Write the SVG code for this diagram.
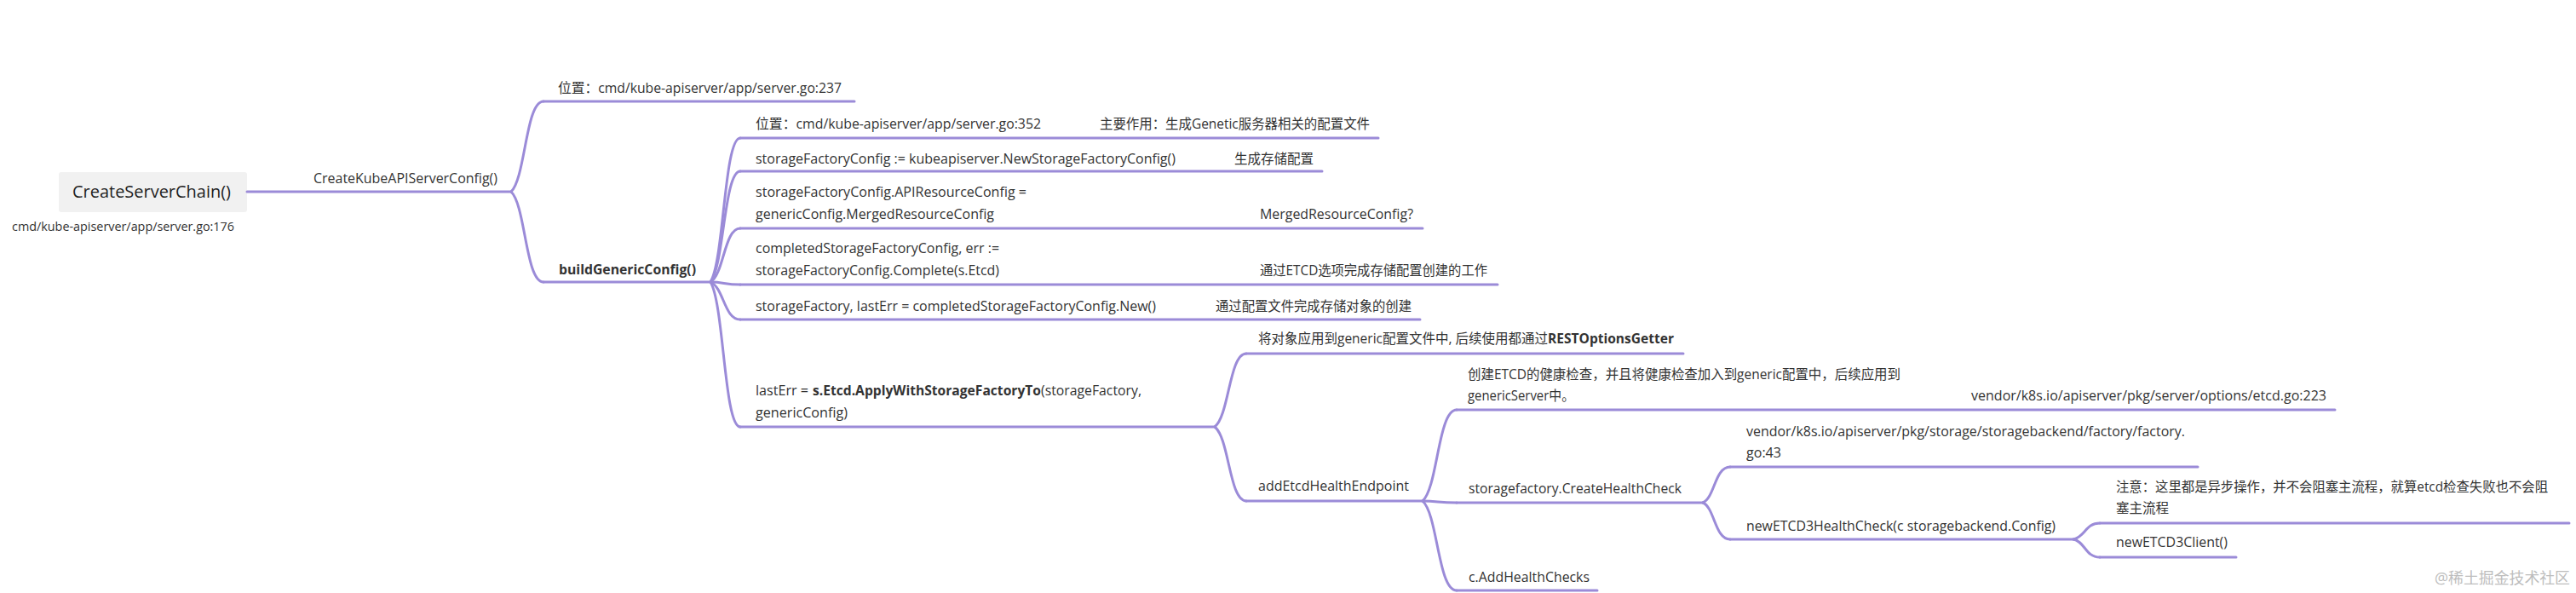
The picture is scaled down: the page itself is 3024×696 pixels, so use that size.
<svg xmlns="http://www.w3.org/2000/svg" width="3024" height="696" viewBox="0 0 3024 696">
<style>
text{font-family:"Open Sans","Noto Sans CJK SC",sans-serif;font-size:16px;fill:#333}
.b{font-weight:700}
.root{font-size:20px;fill:#1e1e1e}
.sm{font-size:15px}
.ul,.cn{fill:none;stroke:#9b8bd8;stroke-width:3;stroke-linecap:round}
.wm{font-size:18px;fill:#bdbdbd}
</style>
<rect width="3024" height="696" fill="#ffffff"/>
<g id="connectors">
<path class="cn" d="M600 225 C617 209 617 119 638 119"/>
<path class="cn" d="M600 225 C617 241 617 331 638 331"/>
<path class="cn" d="M834 331 C850 306 850 162 869 162"/>
<path class="cn" d="M834 331 C850 312 850 201 869 201"/>
<path class="cn" d="M834 331 C850 322 850 268 869 268"/>
<path class="cn" d="M834 331 C850 331 850 334 869 334"/>
<path class="cn" d="M834 331 C850 338 850 375 869 375"/>
<path class="cn" d="M834 331 C850 357 850 501 869 501"/>
<path class="cn" d="M1426 501 C1443 488 1443 415 1463 415"/>
<path class="cn" d="M1426 501 C1443 514 1443 588 1463 588"/>
<path class="cn" d="M1670 588 C1688 572 1688 481 1710 481"/>
<path class="cn" d="M1670 588 C1688 588 1688 590 1710 590"/>
<path class="cn" d="M1670 588 C1688 604 1688 693 1710 693"/>
<path class="cn" d="M1999 590 C2013 584 2013 548 2031 548"/>
<path class="cn" d="M1999 590 C2013 596 2013 633 2031 633"/>
<path class="cn" d="M2434 633 C2448 630 2448 614 2465 614"/>
<path class="cn" d="M2434 633 C2448 636 2448 654 2465 654"/>
</g>
<g id="n-root">
<rect x="69" y="202" width="221" height="47" rx="3" fill="#f1f1f1"/>
<text class="root" x="85" y="232" textLength="186" lengthAdjust="spacingAndGlyphs">CreateServerChain()</text>
<text class="sm" x="14" y="271" textLength="261" lengthAdjust="spacingAndGlyphs">cmd/kube-apiserver/app/server.go:176</text>
</g>
<g id="n-kube">
<line class="ul" x1="290" y1="225" x2="600" y2="225"/>
<text x="368" y="215" textLength="216" lengthAdjust="spacingAndGlyphs">CreateKubeAPIServerConfig()</text>
</g>
<g id="n-loc237">
<line class="ul" x1="638" y1="119" x2="1003" y2="119"/>
<text x="655" y="109" textLength="333" lengthAdjust="spacingAndGlyphs">位置：cmd/kube-apiserver/app/server.go:237</text>
</g>
<g id="n-build">
<line class="ul" x1="638" y1="331" x2="834" y2="331"/>
<text class="b" x="656" y="322" textLength="161" lengthAdjust="spacingAndGlyphs">buildGenericConfig()</text>
</g>
<g id="n-loc352">
<line class="ul" x1="869" y1="162" x2="1618" y2="162"/>
<text x="887" y="151" textLength="335" lengthAdjust="spacingAndGlyphs">位置：cmd/kube-apiserver/app/server.go:352</text>
<text x="1291" y="151" textLength="317" lengthAdjust="spacingAndGlyphs">主要作用：生成Genetic服务器相关的配置文件</text>
</g>
<g id="n-sfc">
<line class="ul" x1="869" y1="201" x2="1552" y2="201"/>
<text x="887" y="192" textLength="493" lengthAdjust="spacingAndGlyphs">storageFactoryConfig := kubeapiserver.NewStorageFactoryConfig()</text>
<text x="1449" y="192" textLength="93" lengthAdjust="spacingAndGlyphs">生成存储配置</text>
</g>
<g id="n-apires">
<line class="ul" x1="869" y1="268" x2="1670" y2="268"/>
<text x="887" y="231" textLength="318" lengthAdjust="spacingAndGlyphs">storageFactoryConfig.APIResourceConfig =</text>
<text x="887" y="257" textLength="280" lengthAdjust="spacingAndGlyphs">genericConfig.MergedResourceConfig</text>
<text x="1479" y="257" textLength="180" lengthAdjust="spacingAndGlyphs">MergedResourceConfig?</text>
</g>
<g id="n-complete">
<line class="ul" x1="869" y1="334" x2="1758" y2="334"/>
<text x="887" y="297" textLength="286" lengthAdjust="spacingAndGlyphs">completedStorageFactoryConfig, err :=</text>
<text x="887" y="323" textLength="286" lengthAdjust="spacingAndGlyphs">storageFactoryConfig.Complete(s.Etcd)</text>
<text x="1479" y="323" textLength="267" lengthAdjust="spacingAndGlyphs">通过ETCD选项完成存储配置创建的工作</text>
</g>
<g id="n-new">
<line class="ul" x1="869" y1="375" x2="1667" y2="375"/>
<text x="887" y="365" textLength="470" lengthAdjust="spacingAndGlyphs">storageFactory, lastErr = completedStorageFactoryConfig.New()</text>
<text x="1427" y="365" textLength="230" lengthAdjust="spacingAndGlyphs">通过配置文件完成存储对象的创建</text>
</g>
<g id="n-lasterr">
<line class="ul" x1="869" y1="501" x2="1426" y2="501"/>
<text x="887" y="464" textLength="62" lengthAdjust="spacingAndGlyphs">lastErr =</text>
<text class="b" x="954" y="464" textLength="268" lengthAdjust="spacingAndGlyphs">s.Etcd.ApplyWithStorageFactoryTo</text>
<text x="1222" y="464" textLength="118" lengthAdjust="spacingAndGlyphs">(storageFactory,</text>
<text x="887" y="490" textLength="108" lengthAdjust="spacingAndGlyphs">genericConfig)</text>
</g>
<g id="n-apply">
<line class="ul" x1="1463" y1="415" x2="1976" y2="415"/>
<text x="1477" y="403" textLength="340" lengthAdjust="spacingAndGlyphs">将对象应用到generic配置文件中, 后续使用都通过</text>
<text class="b" x="1817" y="403" textLength="148" lengthAdjust="spacingAndGlyphs">RESTOptionsGetter</text>
</g>
<g id="n-addetcd">
<line class="ul" x1="1463" y1="588" x2="1670" y2="588"/>
<text x="1477" y="576" textLength="177" lengthAdjust="spacingAndGlyphs">addEtcdHealthEndpoint</text>
</g>
<g id="n-createetcd">
<line class="ul" x1="1710" y1="481" x2="2741" y2="481"/>
<text x="1723" y="445" textLength="508" lengthAdjust="spacingAndGlyphs">创建ETCD的健康检查，并且将健康检查加入到generic配置中，后续应用到</text>
<text x="1723" y="470" textLength="125" lengthAdjust="spacingAndGlyphs">genericServer中。</text>
<text x="2314" y="470" textLength="417" lengthAdjust="spacingAndGlyphs">vendor/k8s.io/apiserver/pkg/server/options/etcd.go:223</text>
</g>
<g id="n-createhc">
<line class="ul" x1="1710" y1="590" x2="1999" y2="590"/>
<text x="1724" y="579" textLength="250" lengthAdjust="spacingAndGlyphs">storagefactory.CreateHealthCheck</text>
</g>
<g id="n-addhc">
<line class="ul" x1="1710" y1="693" x2="1875" y2="693"/>
<text x="1724" y="683" textLength="142" lengthAdjust="spacingAndGlyphs">c.AddHealthChecks</text>
</g>
<g id="n-factory">
<line class="ul" x1="2031" y1="548" x2="2580" y2="548"/>
<text x="2050" y="512" textLength="515" lengthAdjust="spacingAndGlyphs">vendor/k8s.io/apiserver/pkg/storage/storagebackend/factory/factory.</text>
<text x="2050" y="537" textLength="41" lengthAdjust="spacingAndGlyphs">go:43</text>
</g>
<g id="n-newetcd3hc">
<line class="ul" x1="2031" y1="633" x2="2434" y2="633"/>
<text x="2050" y="623" textLength="363" lengthAdjust="spacingAndGlyphs">newETCD3HealthCheck(c storagebackend.Config)</text>
</g>
<g id="n-note">
<line class="ul" x1="2465" y1="614" x2="3016" y2="614"/>
<text x="2484" y="577" textLength="507" lengthAdjust="spacingAndGlyphs">注意：这里都是异步操作，并不会阻塞主流程，就算etcd检查失败也不会阻</text>
<text x="2484" y="602" textLength="62" lengthAdjust="spacingAndGlyphs">塞主流程</text>
</g>
<g id="n-client">
<line class="ul" x1="2465" y1="654" x2="2625" y2="654"/>
<text x="2484" y="642" textLength="131" lengthAdjust="spacingAndGlyphs">newETCD3Client()</text>
</g>
<text class="wm" x="2858" y="685" textLength="159" lengthAdjust="spacingAndGlyphs">@稀土掘金技术社区</text>
</svg>
